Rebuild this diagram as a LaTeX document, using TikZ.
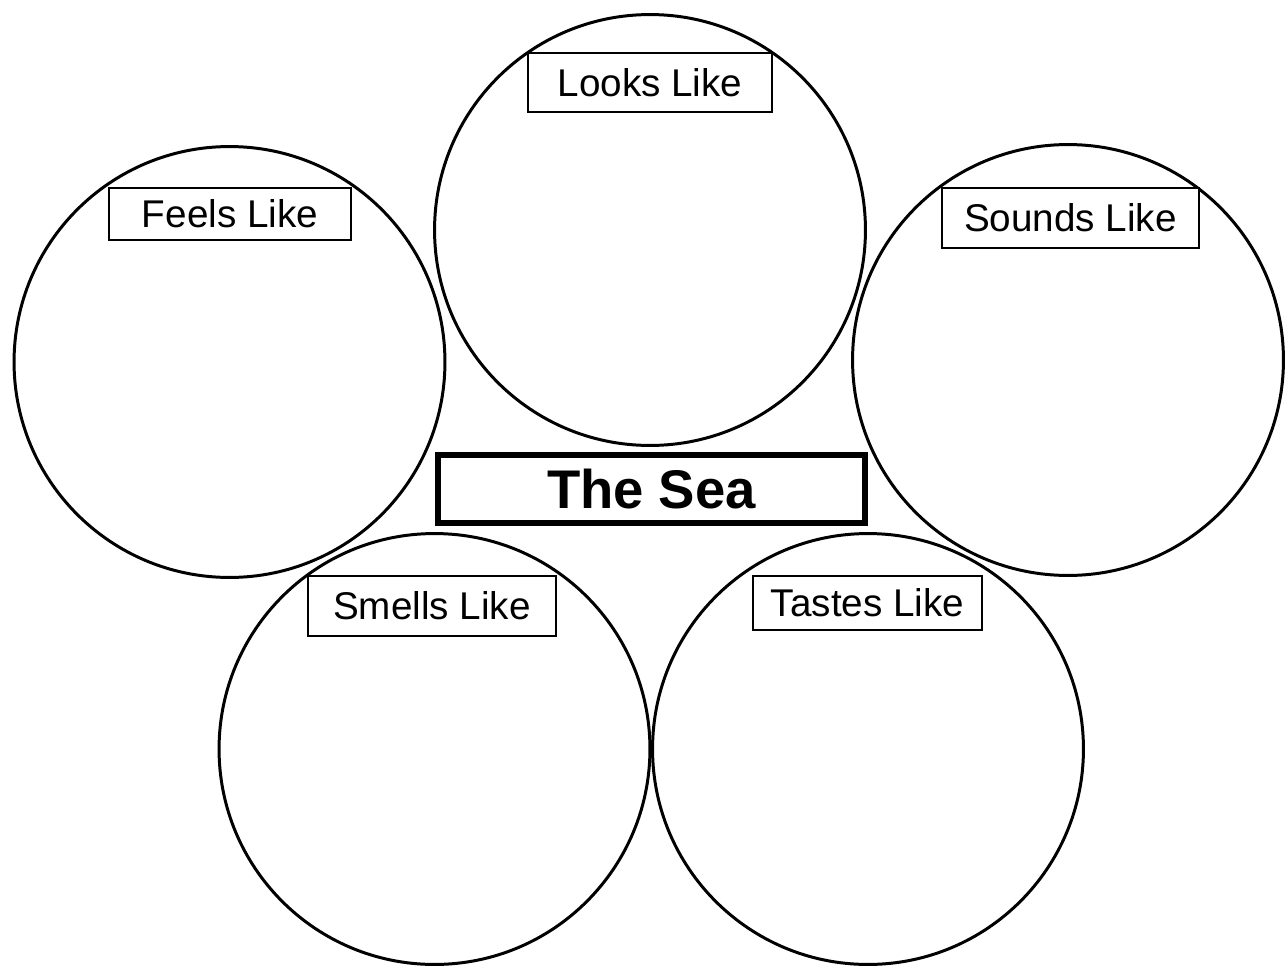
\documentclass[tikz,border=0pt]{standalone}
\usepackage{fontspec}
\setmainfont{Liberation Sans}

\begin{document}
\begin{tikzpicture}[
  x=0.02cm, y=-0.02cm,
  sense/.style={circle, draw, line width=1.7pt, minimum size=8.62cm, inner sep=0pt},
  tag/.style={rectangle, draw, fill=white, line width=1.1pt, inner sep=0pt,
              font=\fontsize{22}{26}\selectfont},
  topic/.style={rectangle, draw, fill=white, line width=3.4pt, inner sep=0pt,
              minimum width=8.54cm, minimum height=1.36cm,
              font=\fontsize{31}{36}\selectfont\bfseries}
]
\useasboundingbox (0,0) rectangle (1288,967);

% the five senses
\node[sense] (looks)  at (650,230) {};
\node[sense] (feels)  at (229.5,362) {};
\node[sense] (sounds) at (1068,360) {};
\node[sense] (smells) at (434.5,749) {};
\node[sense] (tastes) at (868,749) {};

% labels on top of the circles
\node[tag, minimum width=4.88cm, minimum height=1.18cm] (looksTag)  at (650,82.5) {Looks Like};
\node[tag, minimum width=4.84cm, minimum height=1.04cm] (feelsTag)  at (230,214) {Feels Like};
\node[tag, minimum width=5.14cm, minimum height=1.2cm]  (soundsTag) at (1070.5,218) {Sounds Like};
\node[tag, minimum width=4.96cm, minimum height=1.2cm]  (smellsTag) at (432,606) {Smells Like};
\node[tag, minimum width=4.58cm, minimum height=1.08cm] (tastesTag) at (867.5,603) {Tastes Like};

\node[topic] (sea) at (651.5,489) {The Sea};

\end{tikzpicture}
\end{document}
